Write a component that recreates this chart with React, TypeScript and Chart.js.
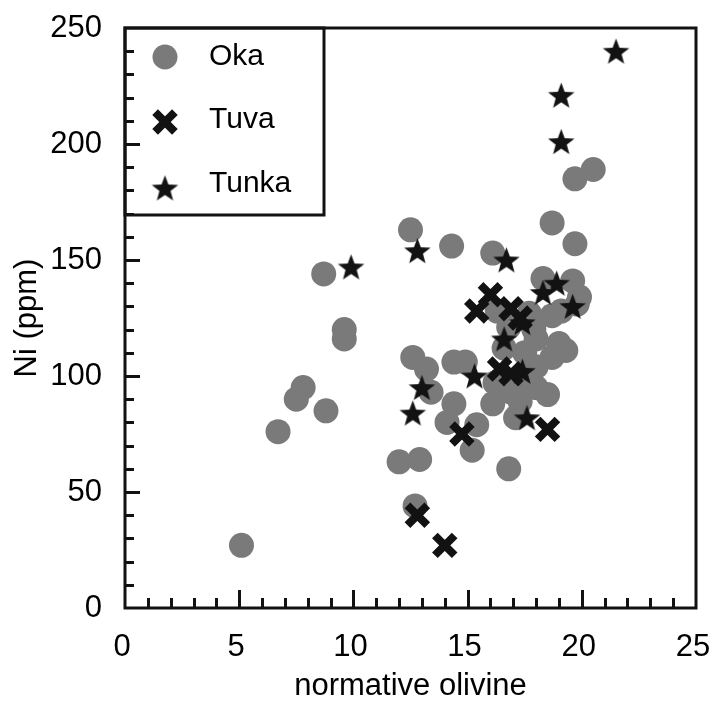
import React, { useEffect, useRef } from 'react';
import { Chart, registerables } from 'chart.js';

Chart.register(...registerables);

// Normative olivine (x) and Ni in ppm (y) for each suite
const okaOlivine = [5.1, 6.7, 7.5, 7.8, 8.8, 8.7, 9.6, 9.6, 12.5, 14.3, 16.1, 18.7, 19.7, 19.7, 20.5, 12.0, 12.9, 12.7, 16.8, 12.6, 13.2, 13.4, 14.4, 14.9, 14.4, 14.1, 15.4, 15.2, 16.1, 17.3, 18.0, 17.1, 18.3, 19.6, 19.9, 19.8, 17.7, 19.1, 18.7, 16.8, 18.0, 19.0, 18.7, 18.0, 19.3, 17.5, 16.6, 16.2, 17.6, 18.5, 16.9, 16.3, 17.9];
const okaNi = [27, 76, 90, 95, 85, 144, 120, 116, 163, 156, 153, 166, 157, 185, 189, 63, 64, 44, 60, 108, 103, 93, 106, 106, 88, 80, 79, 68, 88, 89, 95, 82, 142, 141, 134, 131, 127, 128, 126, 121, 116, 114, 108, 104, 111, 110, 112, 97, 98, 92, 93, 128, 120];

const tuvaOlivine = [16.0, 15.4, 16.9, 17.3, 16.4, 16.9, 14.75, 18.5, 12.8, 14.0];
const tuvaNi = [135, 128, 129, 125, 103, 101, 75, 77, 40, 27];

const tunkaOlivine = [21.5, 19.1, 19.1, 9.9, 12.8, 16.7, 18.3, 18.9, 19.6, 17.4, 16.6, 17.4, 15.3, 13.0, 12.6, 17.6];
const tunkaNi = [240, 221, 201, 147, 154, 150, 136, 140, 130, 123, 116, 102, 100, 95, 84, 82];

const seriesNames = ['Oka', 'Tuva', 'Tunka'];

// Axis ranges and tick spacing
const X_MIN = 0, X_MAX = 25, X_MAJOR = 5, X_MINOR = 1;
const Y_MIN = 0, Y_MAX = 250, Y_MAJOR = 50, Y_MINOR = 10;
const xTitle = 'normative olivine';
const yTitle = 'Ni (ppm)';

const FONT = "'Liberation Sans', Arial, Helvetica, sans-serif";
const INK = '#121212';
const OKA_FILL = '#7a7a7a';

const toPoints = (xs: number[], ys: number[]) => xs.map((x, i) => ({ x, y: ys[i] }));

function makeStar(size: number, color: string): HTMLCanvasElement {
  const c = document.createElement('canvas');
  c.width = size;
  c.height = size;
  const g = c.getContext('2d')!;
  const cx = size / 2, cy = size / 2 + 1.2;
  const outer = size / 2 - 0.6;
  const inner = outer * 0.42;
  g.beginPath();
  for (let i = 0; i < 10; i++) {
    const r = i % 2 === 0 ? outer : inner;
    const a = -Math.PI / 2 + (i * Math.PI) / 5;
    const px = cx + r * Math.cos(a);
    const py = cy + r * Math.sin(a);
    if (i === 0) g.moveTo(px, py); else g.lineTo(px, py);
  }
  g.closePath();
  g.fillStyle = color;
  g.fill();
  return c;
}

export default function App() {
  const canvasRef = useRef<HTMLCanvasElement | null>(null);

  useEffect(() => {
    const canvas = canvasRef.current;
    if (!canvas) return;
    const star = makeStar(29, INK);
    const X_RADIUS = 14;
    const X_WIDTH = 8;
    const DOT_RADIUS = 12.5;

    // Frame, inward tick marks and the boxed key in the upper-left corner
    const framePlugin = {
      id: 'frameTicksKey',
      afterDatasetsDraw(chart: any) {
        const { ctx, chartArea: a, scales } = chart;
        const xs = scales.x, ys = scales.y;
        ctx.save();

        // key box
        const kx = a.left, ky = a.top, kw = 199, kh = 187;
        ctx.fillStyle = '#ffffff';
        ctx.fillRect(kx, ky, kw, kh);
        ctx.lineWidth = 3;
        ctx.strokeStyle = INK;
        ctx.strokeRect(kx, ky, kw, kh);

        const mx = kx + 40;
        const rows = [ky + 29, ky + 94, ky + 160];
        // Oka dot
        ctx.fillStyle = OKA_FILL;
        ctx.beginPath();
        ctx.arc(mx, rows[0], DOT_RADIUS, 0, Math.PI * 2);
        ctx.fill();
        // Tuva cross
        ctx.strokeStyle = INK;
        ctx.lineWidth = X_WIDTH;
        const d = X_RADIUS * Math.SQRT1_2;
        ctx.beginPath();
        ctx.moveTo(mx - d, rows[1] - d); ctx.lineTo(mx + d, rows[1] + d);
        ctx.moveTo(mx - d, rows[1] + d); ctx.lineTo(mx + d, rows[1] - d);
        ctx.stroke();
        // Tunka star
        ctx.drawImage(star, mx - star.width / 2, rows[2] - star.height / 2);

        ctx.fillStyle = '#000';
        ctx.font = `30px ${FONT}`;
        ctx.textBaseline = 'middle';
        ctx.textAlign = 'left';
        ctx.fillText(seriesNames[0], kx + 84, rows[0]);
        ctx.fillText(seriesNames[1], kx + 84, rows[1] - 2);
        ctx.fillText(seriesNames[2], kx + 84, rows[2] - 4);

        // tick marks pointing into the plot
        ctx.strokeStyle = INK;
        ctx.lineWidth = 3;
        ctx.lineCap = 'butt';
        ctx.beginPath();
        for (let v = Y_MIN + Y_MINOR; v < Y_MAX; v += Y_MINOR) {
          const py = Math.round(ys.getPixelForValue(v)) + 0.5;
          const len = v % Y_MAJOR === 0 ? 15 : 9;
          ctx.moveTo(a.left, py);
          ctx.lineTo(a.left + len, py);
        }
        for (let v = X_MIN + X_MINOR; v < X_MAX; v += X_MINOR) {
          const px = Math.round(xs.getPixelForValue(v)) + 0.5;
          const len = v % X_MAJOR === 0 ? 18 : 10;
          ctx.moveTo(px, a.bottom);
          ctx.lineTo(px, a.bottom - len);
        }
        ctx.stroke();

        // plot frame
        ctx.strokeRect(a.left, a.top, a.right - a.left, a.bottom - a.top);
        ctx.restore();
      },
    };

    const chart = new Chart(canvas, {
      type: 'scatter',
      data: {
        datasets: [
          {
            label: seriesNames[0],
            data: toPoints(okaOlivine, okaNi),
            pointStyle: 'circle',
            pointRadius: DOT_RADIUS,
            pointBackgroundColor: OKA_FILL,
            pointBorderWidth: 0,
            borderColor: OKA_FILL,
            order: 3,
          },
          {
            label: seriesNames[1],
            data: toPoints(tuvaOlivine, tuvaNi),
            pointStyle: 'crossRot',
            pointRadius: X_RADIUS,
            pointBorderColor: INK,
            pointBorderWidth: X_WIDTH,
            borderColor: INK,
            order: 2,
          },
          {
            label: seriesNames[2],
            data: toPoints(tunkaOlivine, tunkaNi),
            pointStyle: star,
            pointRadius: 14,
            borderColor: INK,
            order: 1,
          },
        ],
      },
      options: {
        animation: false,
        responsive: false,
        devicePixelRatio: 1,
        clip: false as any,
        layout: { autoPadding: false, padding: { top: 28, right: 16, left: 0, bottom: 0 } },
        plugins: {
          legend: { display: false },
          tooltip: { enabled: false },
        },
        events: [],
        scales: {
          x: {
            type: 'linear',
            min: X_MIN,
            max: X_MAX,
            grid: { display: false, drawTicks: false },
            border: { display: false },
            ticks: {
              stepSize: X_MAJOR,
              padding: 21,
              labelOffset: -3,
              color: '#000',
              font: { family: FONT, size: 31 },
              callback: (v: any) => String(v),
            },
            title: {
              display: true,
              text: xTitle,
              color: '#000',
              font: { family: FONT, size: 31 },
              padding: { top: 0, bottom: 4 },
            },
            afterFit: (s: any) => {
              s.height = 101;
              s.paddingLeft = 0;
              s.paddingRight = 0;
            },
          },
          y: {
            type: 'linear',
            min: Y_MIN,
            max: Y_MAX,
            grid: { display: false, drawTicks: false },
            border: { display: false },
            ticks: {
              stepSize: Y_MAJOR,
              padding: 23,
              color: '#000',
              font: { family: FONT, size: 31 },
              callback: (v: any) => String(v),
            },
            title: {
              display: true,
              text: yTitle,
              color: '#000',
              font: { family: FONT, size: 31 },
              padding: { top: 9, bottom: 0 },
            },
            afterFit: (s: any) => {
              s.width = 125;
              s.paddingTop = 0;
              s.paddingBottom = 0;
            },
          },
        },
      },
      plugins: [framePlugin],
    });

    return () => chart.destroy();
  }, []);

  return (
    <div style={{ position: 'absolute', left: 0, top: 0, width: 712, height: 709, background: '#fff' }}>
      <canvas ref={canvasRef} width={712} height={709} style={{ width: 712, height: 709, display: 'block' }} />
    </div>
  );
}
